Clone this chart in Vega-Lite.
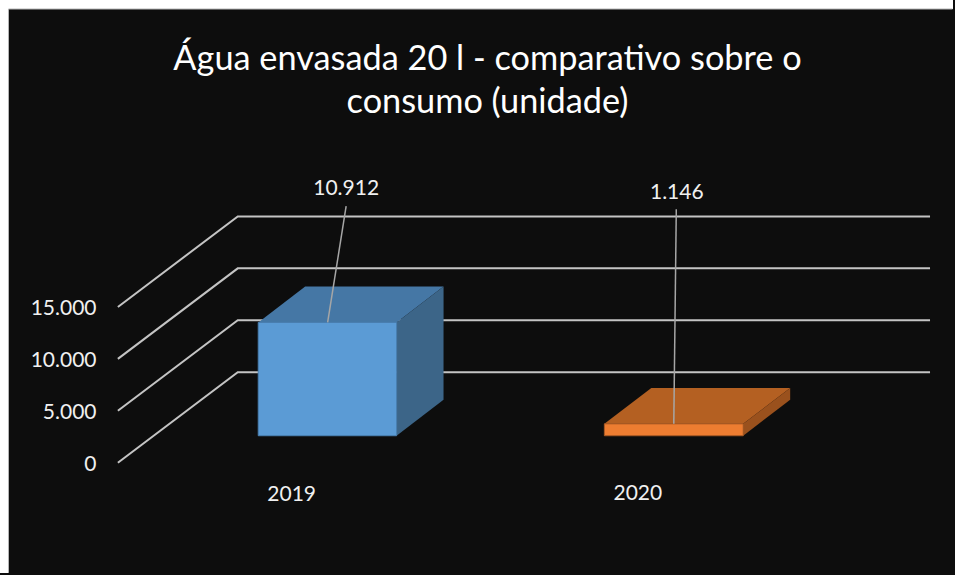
{
"$schema":"https://vega.github.io/schema/vega-lite/v6.json",
"width":955,"height":575,"padding":0,
"autosize":{"type":"fit","contains":"padding"},
"background":"#0d0d0d",
"view":{"stroke":null},
"title":{"text":["Água envasada 20 l - comparativo sobre o","consumo (unidade)"],"font":"Lato","fontSize":34.3,"fontWeight":"normal","color":"#ffffff","anchor":"middle","frame":"group","dx":11,"offset":-120,"lineHeight":43,"zindex":1},
"encoding":{
 "x":{"field":"x","type":"quantitative","scale":{"domain":[0,954],"nice":false,"zero":false},"axis":null},
 "y":{"field":"y","type":"quantitative","scale":{"domain":[-10625,44567],"nice":false,"zero":false},
  "axis":{"orient":"left","values":[0,5000,10000,15000],"format":",d","labelExpr":"replace(datum.label, ',', '.')","offset":-96,"domain":false,"ticks":false,"grid":false,"title":null,"labelPadding":0,"labelOffset":2,"labelFont":"Lato","labelFontSize":21,"labelColor":"#f0f0f0","zindex":1}}
},
"layer":[
 {"data":{"values":[{"x":0,"x2":8.5,"y":44567,"y2":-10625},{"x":0,"x2":954,"y":44567,"y2":43700}]},
  "mark":{"type":"rect","fill":"#ffffff"},
  "encoding":{"x2":{"field":"x2"},"y2":{"field":"y2"}}},
 {"data":{"values":[{"x":8.5,"y":-10600,"o":1},{"x":8.5,"y":43700,"o":2},{"x":953.5,"y":43700,"o":3}]},
  "mark":{"type":"line","stroke":"#b5b5b5","strokeWidth":1},
  "encoding":{"order":{"field":"o","type":"ordinal"}}},
 {"data":{"values":[
  {"grid":0,"x":118,"y":0},{"grid":0,"x":238,"y":8720},{"grid":0,"x":931,"y":8720},
  {"grid":5000,"x":118,"y":5000},{"grid":5000,"x":238,"y":13720},{"grid":5000,"x":931,"y":13720},
  {"grid":10000,"x":118,"y":10000},{"grid":10000,"x":238,"y":18720},{"grid":10000,"x":931,"y":18720},
  {"grid":15000,"x":118,"y":15000},{"grid":15000,"x":238,"y":23720},{"grid":15000,"x":931,"y":23720}
 ]},
  "mark":{"type":"line","stroke":"#c4c4c4","strokeWidth":2},
  "encoding":{"detail":{"field":"grid"}}},
 {"data":{"values":[
  {"face":"b-top","x":258.5,"y":13508,"y2":13508},{"face":"b-top","x":305.5,"y":16970,"y2":13508},{"face":"b-top","x":397,"y":16970,"y2":13508},{"face":"b-top","x":444,"y":16970,"y2":16970},
  {"face":"b-side","x":397,"y":13508,"y2":2596},{"face":"b-side","x":444,"y":16970,"y2":6058},
  {"face":"o-top","x":605,"y":3742,"y2":3742},{"face":"o-top","x":652,"y":7204,"y2":3742},{"face":"o-top","x":744,"y":7204,"y2":3742},{"face":"o-top","x":791,"y":7204,"y2":7204},
  {"face":"o-side","x":744,"y":3742,"y2":2596},{"face":"o-side","x":791,"y":7204,"y2":6058}
 ]},
  "mark":{"type":"area","opacity":1},
  "encoding":{"y2":{"field":"y2"},
   "color":{"field":"face","type":"nominal","legend":null,"scale":{"domain":["b-top","b-side","o-top","o-side"],"range":["#4577a5","#3c6588","#b46022","#9a511d"]}}}},
 {"data":{"values":[
  {"series":"2019","x":258.5,"x2":397,"y":13508,"y2":2596},
  {"series":"2020","x":605,"x2":744,"y":3742,"y2":2596}
 ]},
  "mark":{"type":"rect","strokeWidth":1},
  "encoding":{"x2":{"field":"x2"},"y2":{"field":"y2"},
   "fill":{"field":"series","type":"nominal","legend":null,"scale":{"domain":["2019","2020"],"range":["#5b9bd5","#ed7d31"]}},
   "stroke":{"field":"series","type":"nominal","legend":null,"scale":{"domain":["2019","2020"],"range":["#4a80b2","#a85a24"]}}}},
 {"data":{"values":[
  {"series":"2019","x":346.5,"x2":328,"y":24712,"y2":13508},
  {"series":"2020","x":677,"x2":674.5,"y":24423,"y2":3742}
 ]},
  "mark":{"type":"rule","stroke":"#a6a6a6","strokeWidth":1.5},
  "encoding":{"x2":{"field":"x2"},"y2":{"field":"y2"}}},
 {"data":{"values":[
  {"label":"10.912","x":346.5,"y":26346},
  {"label":"1.146","x":677.5,"y":25962},
  {"label":"2019","x":292,"y":-3077},
  {"label":"2020","x":638.5,"y":-2981}
 ]},
  "mark":{"type":"text","font":"Lato","fontSize":21,"fill":"#f0f0f0","align":"center","baseline":"middle"},
  "encoding":{"text":{"field":"label","type":"nominal"}}}
]
}
